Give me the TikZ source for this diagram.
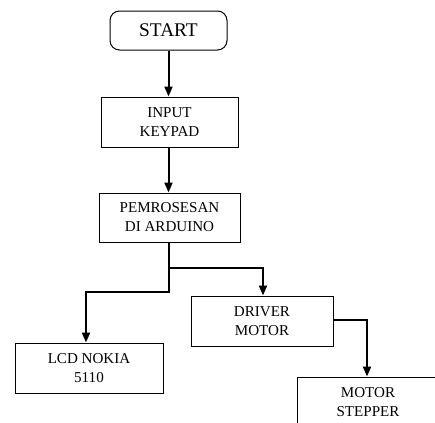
\documentclass[tikz,border=0pt]{standalone}
\usepackage{fontspec}
\setmainfont{Liberation Serif}
\usetikzlibrary{arrows.meta,positioning,calc}
\tikzset{
  flowline/.style={line width=1.5pt,black},
  flowarrow/.style={line width=1.5pt,black,-{Triangle[width=6pt,length=7.5pt]}},
  termbox/.style={draw,line width=0.75pt,rounded corners=2.5mm,align=center,inner sep=2pt,font=\fontsize{14.5}{16}\selectfont},
  procbox/.style={draw,line width=0.75pt,align=center,inner sep=2pt,minimum height=37.5pt,font=\fontsize{11.3}{14.2}\selectfont}
}

\begin{document}
\begin{tikzpicture}[x=0.75pt,y=-0.75pt]
  \useasboundingbox (0,0) rectangle (435,422);
  \clip (0,0) rectangle (435,422);
  \node[termbox,minimum width=87.75pt,minimum height=29.25pt] (start) at (168.5,30.5) {START};
  \node[procbox,minimum width=102.75pt] (keypad) at (169.5,122) {INPUT\\KEYPAD};
  \node[procbox,minimum width=105.75pt,minimum height=36.75pt] (arduino) at (169.5,217.5) {PEMROSESAN\\DI ARDUINO};
  \node[procbox,minimum width=111pt] (lcd) at (89,368) {LCD NOKIA\\5110};
  \node[procbox,minimum width=106.5pt] (driver) at (262,321) {DRIVER\\MOTOR};
  \node[procbox,minimum width=106.5pt] (stepper) at (368,402) {MOTOR\\STEPPER};
  % branch points
  \coordinate (split) at (168.5,268);
  \coordinate (lcdtop) at (86,292);
  \draw[flowarrow] (start.south -| 168.5,0) -- (keypad.north -| 168.5,0);
  \draw[flowarrow] (keypad.south -| 168.5,0) -- (arduino.north -| 168.5,0);
  \draw[flowarrow] (arduino.south -| 168.5,0) -- (168.5,292) -- (lcdtop) -- (lcd.north -| lcdtop);
  \draw[flowarrow] (split) -- (263,268) -- (driver.north -| 263,0);
  \draw[flowarrow] (driver.east |- 0,320) -- (367,320) -- (stepper.north -| 367,0);
\end{tikzpicture}
\end{document}
